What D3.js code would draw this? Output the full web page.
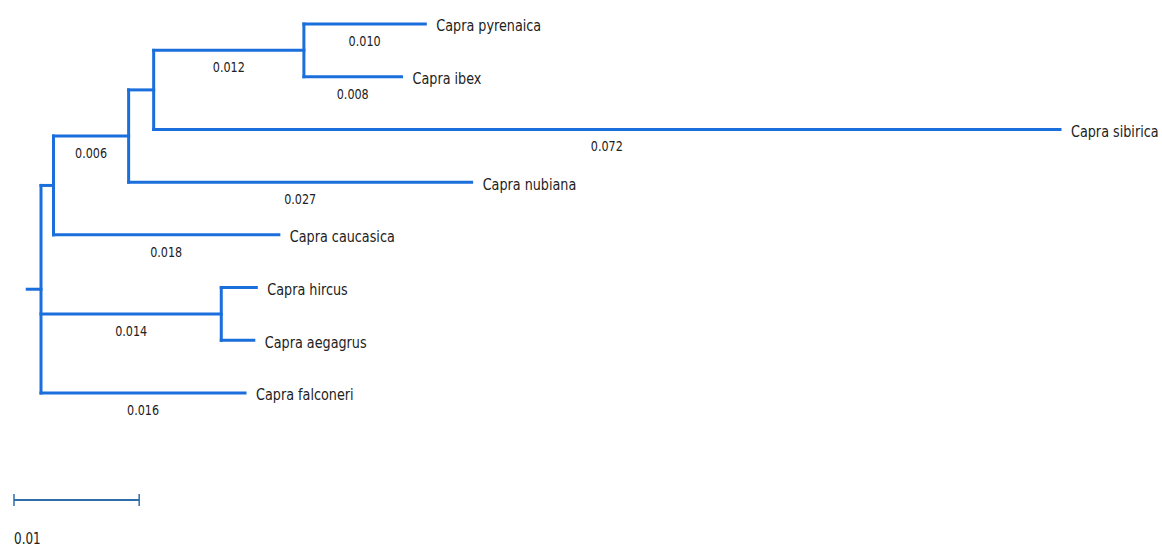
<!DOCTYPE html>
<html lang="en">
<head>
  <meta charset="UTF-8"/>
  <title>Capra tree</title>
  <script src="https://d3js.org/d3.v7.min.js"></script>
  <style>
    body { margin: 0; background: #fff; }
    text { font-family: "DejaVu Sans", sans-serif; fill: #222; }
  </style>
</head>
<body>
<svg id="tree" width="1162" height="547"></svg>
<script>
// tree data: node ids, parents and branch lengths (same order)
const nodeIds = ["root", "n1", "n2", "n3", "n4", "Capra pyrenaica", "Capra ibex", "Capra sibirica",
                 "Capra nubiana", "Capra caucasica", "n5", "Capra hircus", "Capra aegagrus", "Capra falconeri"];
const parentIds = ["", "root", "n1", "n2", "n3", "n4", "n4", "n3", "n2", "n1", "root", "n5", "n5", "root"];
const branchLengths = [0.0011, 0.001, 0.006, 0.002, 0.012, 0.0097, 0.0078, 0.0724,
                       0.0274, 0.018, 0.0144, 0.0028, 0.0026, 0.0163];
const scaleBarValue = 0.01;
const scaleBarLabel = "0.01";

const lineColor = "#1a6fdc";
const squeeze = 0.8; // condensed look of the labels

const table = nodeIds.map((id, i) => ({id: id, parent: parentIds[i], len: branchLengths[i]}));
const root = d3.stratify().id(d => d.id).parentId(d => d.parent || null)(table);

// cumulative distance from root
root.each(d => { d.dist = d.parent ? d.parent.dist + d.data.len : 0; });

const leaves = root.leaves();
const x = d3.scaleLinear().domain([0, d3.max(leaves, d => d.dist)]).range([41, 1060]);
const yLeaf = d3.scaleLinear().domain([0, leaves.length - 1]).range([24, 393]);

leaves.forEach((d, i) => { d.yy = yLeaf(i); });
root.eachAfter(d => {
  if (d.children) d.yy = (d.children[0].yy + d.children[d.children.length - 1].yy) / 2;
});

const svg = d3.select("#tree");
const g = svg.append("g");

// horizontal branches
const nodes = root.descendants();
g.selectAll("line.h").data(nodes).join("line")
  .attr("class", "h")
  .attr("x1", d => d.parent ? x(d.parent.dist) : x(-d.data.len))
  .attr("x2", d => x(d.dist))
  .attr("y1", d => d.yy).attr("y2", d => d.yy)
  .attr("stroke", lineColor).attr("stroke-width", 3).attr("stroke-linecap", "square");

// vertical connectors
g.selectAll("line.v").data(nodes.filter(d => d.children)).join("line")
  .attr("class", "v")
  .attr("x1", d => x(d.dist)).attr("x2", d => x(d.dist))
  .attr("y1", d => d.children[0].yy)
  .attr("y2", d => d.children[d.children.length - 1].yy)
  .attr("stroke", lineColor).attr("stroke-width", 3).attr("stroke-linecap", "square");

// leaf names
g.selectAll("text.leaf").data(leaves).join("text")
  .attr("class", "leaf")
  .attr("transform", d => `translate(${x(d.dist) + 11},${d.yy + 3}) scale(${squeeze},1)`)
  .attr("dominant-baseline", "middle")
  .attr("font-size", 16)
  .text(d => d.id);

// branch length labels
const fmt = d3.format(".3f");
g.selectAll("text.len").data(nodes.filter(d => d.parent && d.data.len >= 0.005)).join("text")
  .attr("class", "len")
  .attr("transform", d => `translate(${(x(d.parent.dist) + x(d.dist)) / 2},${d.yy + 18}) scale(${squeeze},1)`)
  .attr("text-anchor", "middle")
  .attr("dominant-baseline", "middle")
  .attr("font-size", 14)
  .text(d => fmt(d.data.len));

// scale bar
const x0 = 14, sy = 500;
const barLen = x(scaleBarValue) - x(0);
const bar = svg.append("g").attr("stroke", "#2f6ea8").attr("stroke-width", 2);
bar.append("line").attr("x1", x0).attr("x2", x0 + barLen).attr("y1", sy).attr("y2", sy);
bar.append("line").attr("x1", x0).attr("x2", x0).attr("y1", sy - 6).attr("y2", sy + 6).attr("stroke-width", 1.5);
bar.append("line").attr("x1", x0 + barLen).attr("x2", x0 + barLen).attr("y1", sy - 6).attr("y2", sy + 6).attr("stroke-width", 1.5);
svg.append("text")
  .attr("transform", `translate(${x0},540) scale(${squeeze},1)`)
  .attr("dominant-baseline", "middle")
  .attr("font-size", 15)
  .text(scaleBarLabel);
</script>
</body>
</html>
